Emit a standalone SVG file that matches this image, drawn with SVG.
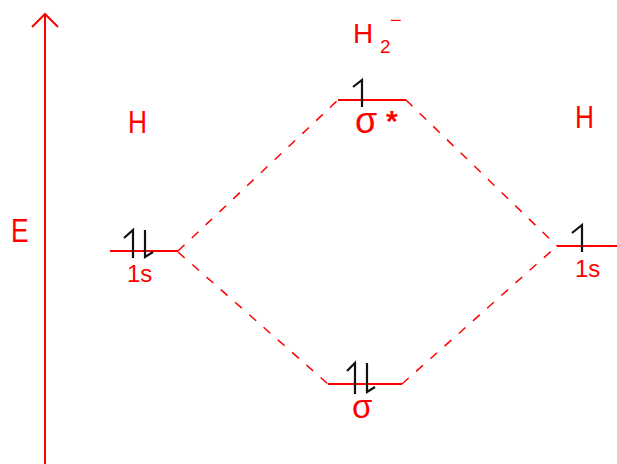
<svg xmlns="http://www.w3.org/2000/svg" width="617" height="464" viewBox="0 0 617 464">
<style>
.lbl{font-family:"Liberation Sans",Arial,sans-serif;fill:#ff0000}
.lvl{stroke:#ff0000;stroke-width:2;fill:none}
.dash{stroke:#ff0000;stroke-width:1.5;stroke-dasharray:9 10;fill:none}
.spin{stroke:#111;stroke-width:2.2;fill:none;stroke-linejoin:miter}
</style>
<rect width="617" height="464" fill="#ffffff"/>
<g id="axis">
<line x1="45" y1="14" x2="45" y2="464" class="lvl"/>
<polyline points="32,27 45,14 58,27" class="lvl"/>
<text class="lbl" transform="translate(11,242) scale(0.8,1)" font-size="33">E</text>
</g>
<g id="connectors">
<line x1="178" y1="251" x2="338" y2="100" class="dash"/>
<line x1="406" y1="100" x2="557" y2="246" class="dash"/>
<line x1="178" y1="252" x2="328" y2="384" class="dash"/>
<line x1="402" y1="384" x2="557" y2="246" class="dash"/>
</g>
<g id="title">
<text class="lbl" x="353" y="43" font-size="28">H</text>
<text class="lbl" x="380" y="53" font-size="19">2</text>
<text class="lbl" x="390" y="27" font-size="20">−</text>
</g>
<g id="h-left">
<text class="lbl" transform="translate(128,133) scale(0.85,1)" font-size="31">H</text>
<line x1="110" y1="251" x2="178" y2="251" class="lvl"/>
<path d="M124,238 L133,230 V258" class="spin"/>
<path d="M145,230 V257 L153,252" class="spin"/>
<text class="lbl" x="127" y="282" font-size="24">1s</text>
</g>
<g id="sigma-star">
<line x1="338" y1="100" x2="406" y2="100" class="lvl"/>
<path d="M353,87 L362,80 V107" class="spin"/>
<text class="lbl" x="355" y="133" font-size="36">σ</text>
<text class="lbl" x="386" y="131" font-size="30" font-weight="bold">*</text>
</g>
<g id="sigma">
<line x1="328" y1="384" x2="402" y2="384" class="lvl"/>
<path d="M347,371 L355,363 V394" class="spin"/>
<path d="M367,363 V392 L375,387" class="spin"/>
<text class="lbl" x="352" y="418" font-size="33">σ</text>
</g>
<g id="h-right">
<text class="lbl" transform="translate(575,128) scale(0.85,1)" font-size="31">H</text>
<line x1="557" y1="246" x2="617" y2="246" class="lvl"/>
<path d="M572,233 L582,225 V252" class="spin"/>
<text class="lbl" x="575" y="277" font-size="24">1s</text>
</g>
</svg>
